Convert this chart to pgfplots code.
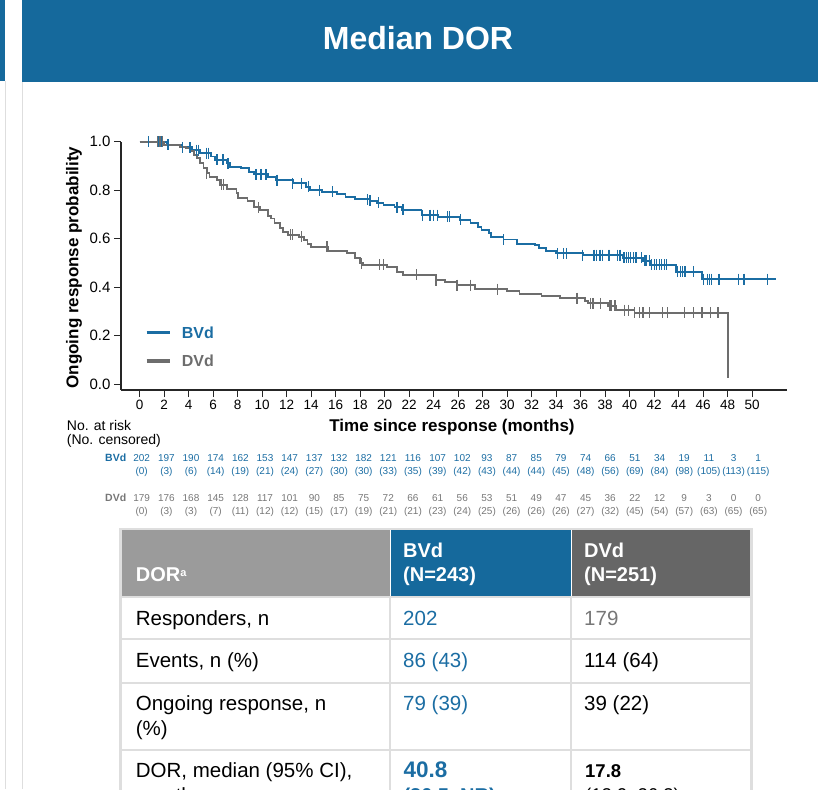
\documentclass[border=0pt]{standalone}
\usepackage{pgfplots}
\pgfplotsset{compat=1.18}
\usepackage{fontspec}
\setmainfont{Liberation Sans}
\definecolor{hdrblue}{HTML}{15699C}
\definecolor{bvd}{HTML}{1B6DA3}
\definecolor{dvd}{HTML}{6D6D6D}
\definecolor{dvdtxt}{HTML}{777777}
\definecolor{cellgray}{HTML}{9B9B9B}
\definecolor{celldark}{HTML}{666666}
\definecolor{rulegray}{HTML}{DEDEDE}
\newcommand{\fs}[1]{\fontsize{#1}{#1}\selectfont}
\begin{document}
\begin{tikzpicture}
\useasboundingbox (0,0) rectangle (818pt,-789pt);
% header band
\fill[hdrblue] (0,0) rectangle (5pt,-81pt);
\fill[hdrblue] (22pt,0) rectangle (818pt,-82pt);
\draw[rulegray, line width=1pt] (5.5pt,-81pt) -- (5.5pt,-789pt);
\draw[rulegray, line width=1pt] (22.5pt,-82pt) -- (22.5pt,-789pt);
\node[white, font=\fs{32}\bfseries, anchor=base, inner sep=0pt] at (418pt,-49.3pt) {Median DOR};

\begin{axis}[
  at={(121pt,-390pt)}, anchor=south west,
  scale only axis, width=665.7pt, height=248.2pt,
  xmin=-1.527, xmax=52.82, ymin=-0.0235, ymax=1.0,
  axis x line=bottom, axis y line=left,
  axis line style={-, line width=1.3pt, black!85},
  xtick={0,2,...,50}, ytick={0,0.2,0.4,0.6,0.8,1},
  tick align=outside, major tick length=7pt,
  tick style={line width=1.1pt, black!85},
  yticklabel style={/pgf/number format/fixed, /pgf/number format/precision=1, /pgf/number format/fixed zerofill, font=\fs{15}},
  xticklabel style={font=\fs{13.5}},
  /pgf/number format/assume math mode=true,
  clip=false,
]
\addplot[const plot, bvd, line width=1.8pt] coordinates {
(0,1.0) (2.2,0.987) (3.5,0.977) (4.3,0.966) (4.9,0.953) (5.8,0.939) (6.15,0.925)
(7.1,0.911) (7.4,0.897) (8.3,0.891) (8.9,0.877) (9.3,0.866) (10.5,0.856) (11.1,0.842)
(12.5,0.829) (13.6,0.815) (13.9,0.801) (14.85,0.794) (16.1,0.785) (16.8,0.774)
(17.6,0.763) (18.8,0.756) (19.35,0.749) (19.9,0.739) (20.8,0.730) (21.4,0.719)
(23.0,0.698) (24.4,0.691) (26.15,0.678) (27.0,0.664) (27.6,0.650) (27.9,0.636)
(28.5,0.623) (28.7,0.609) (29.7,0.597) (30.8,0.580) (32.3,0.576) (32.6,0.563)
(33.2,0.551) (34.0,0.540) (36.2,0.533) (39.45,0.522) (41.1,0.510) (41.7,0.492)
(43.8,0.464) (45.9,0.434) (51.94,0.434)
};
\addplot[only marks, mark=|, mark size=5.5pt, bvd, mark options={line width=1.3pt}, forget plot] coordinates {
(0.7,1.0) (1.5,1.0) (1.8,1.0) (2.3,0.987) (3.5,0.977) (4.1,0.977) (4.65,0.966) (4.8,0.966)
(5.47,0.953) (5.6,0.953) (6.3,0.925) (6.8,0.925) (7.2,0.911) (9.5,0.866) (9.9,0.866)
(10.3,0.866) (11.2,0.842) (12.5,0.829) (13.2,0.829) (13.8,0.815) (14.7,0.801)
(15.75,0.794) (18.6,0.763) (18.8,0.756) (19.5,0.749) (21.0,0.730) (21.5,0.719)
(23.1,0.698) (23.7,0.698) (24.0,0.698) (24.3,0.698) (25.1,0.691) (25.3,0.691)
(26.2,0.678) (29.7,0.597) (34.09,0.540) (34.58,0.540) (34.86,0.540) (36.16,0.533)
(37.09,0.533) (37.31,0.533) (37.58,0.533) (37.8,0.533) (38.26,0.533) (38.34,0.533)
(38.99,0.533) (39.21,0.533) (39.53,0.522) (39.76,0.522) (39.89,0.522) (40.08,0.522)
(40.3,0.522) (40.51,0.522) (40.98,0.522) (41.25,0.510) (41.39,0.510) (41.6,0.510)
(41.8,0.492) (42.01,0.492) (42.2,0.492) (42.42,0.492) (42.61,0.492) (42.83,0.492)
(43.02,0.492) (43.89,0.464) (44.16,0.464) (44.33,0.464) (44.51,0.464) (45.19,0.464)
(46.01,0.434) (46.34,0.434) (46.5,0.434) (46.69,0.434) (47.29,0.434) (48.87,0.434)
(49.33,0.434) (51.27,0.434)
};
\addplot[const plot, dvd, line width=1.8pt] coordinates {
(0,1.0) (2.0,0.987) (3.3,0.980) (3.8,0.973) (4.1,0.962) (4.4,0.946) (4.65,0.932)
(4.9,0.911) (5.2,0.891) (5.5,0.870) (5.7,0.856) (6.3,0.842) (6.55,0.822) (7.1,0.804)
(7.9,0.788) (8.0,0.767) (8.8,0.755) (9.35,0.730) (9.8,0.719) (10.5,0.695) (10.7,0.684)
(11.0,0.664) (11.45,0.643) (11.7,0.629) (12.1,0.616) (13.0,0.609) (13.4,0.595)
(13.7,0.580) (14.0,0.567) (15.4,0.551) (16.9,0.540) (17.6,0.520) (18.0,0.499)
(18.2,0.492) (20.2,0.485) (21.0,0.462) (21.5,0.452) (24.2,0.430) (24.9,0.423)
(25.9,0.409) (27.4,0.393) (30.0,0.385) (31.0,0.372) (32.8,0.364) (34.3,0.355)
(36.35,0.345) (36.6,0.334) (38.25,0.323) (38.9,0.306) (40.4,0.295) (48.05,0.025)
};
\addplot[only marks, mark=|, mark size=5.5pt, dvd, mark options={line width=1.3pt}, forget plot] coordinates {
(1.47,1.0) (1.66,1.0) (1.85,1.0) (5.45,0.870) (6.69,0.822) (6.85,0.822) (9.7,0.730)
(12.3,0.616) (12.5,0.616) (13.2,0.609) (15.3,0.567) (18.1,0.499) (19.6,0.492)
(19.9,0.492) (22.6,0.452) (24.2,0.430) (25.9,0.409) (27.0,0.409) (29.2,0.393)
(35.7,0.355) (36.8,0.334) (37.0,0.334) (37.6,0.334) (38.4,0.323) (38.5,0.323)
(38.8,0.323) (39.6,0.306) (39.9,0.306) (40.4,0.295) (40.8,0.295) (41.1,0.295)
(41.6,0.295) (42.7,0.295) (43.1,0.295) (44.5,0.295) (45.2,0.295) (45.9,0.295)
(46.6,0.295) (47.2,0.295)
};
\end{axis}

% axis labels
\node[font=\fs{17}\bfseries, anchor=base, inner sep=0pt] at (452pt,-431.7pt) {Time since response (months)};
\node[font=\fs{17}\bfseries, anchor=base, rotate=90, inner sep=0pt] at (78.3pt,-267.5pt) {Ongoing response probability};

% legend
\draw[bvd, line width=3.3pt] (146.7pt,-332.3pt) -- (170pt,-332.3pt);
\node[bvd, font=\fs{16}\bfseries, anchor=base west, inner sep=0pt] at (181.7pt,-338.3pt) {BVd};
\draw[dvd, line width=3.3pt] (146.7pt,-361pt) -- (170pt,-361pt);
\node[dvd, font=\fs{16}\bfseries, anchor=base west, inner sep=0pt] at (181.7pt,-366.7pt) {DVd};

% at risk
\node[font=\fs{14}, anchor=base west, inner sep=0pt] at (66.7pt,-430.7pt) {No. at risk};
\node[font=\fs{14}, anchor=base west, inner sep=0pt] at (66.7pt,-444.3pt) {(No. censored)};
\node[bvd, font=\fs{10.5}\bfseries, anchor=base west, inner sep=0pt] at (105pt,-461.7pt) {BVd};
\node[dvdtxt, font=\fs{10.5}\bfseries, anchor=base west, inner sep=0pt] at (105pt,-501.7pt) {DVd};
\foreach \n/\c [count=\i from 0] in {202/0,197/3,190/6,174/14,162/19,153/21,147/24,137/27,132/30,182/30,121/33,116/35,107/39,102/42,93/43,87/44,85/44,79/45,74/48,66/56,51/69,34/84,19/98,11/105,3/113,1/115}{
  \node[bvd, font=\fs{10}, anchor=base, inner sep=0pt] at ({(141.7+24.66*\i)*1pt},-461.7pt) {\n};
  \node[bvd, font=\fs{10}, anchor=base, inner sep=0pt] at ({(141.7+24.66*\i)*1pt},-474.5pt) {(\c)};
}
\foreach \n/\c [count=\i from 0] in {179/0,176/3,168/3,145/7,128/11,117/12,101/12,90/15,85/17,75/19,72/21,66/21,61/23,56/24,53/25,51/26,49/26,47/26,45/27,36/32,22/45,12/54,9/57,3/63,0/65,0/65}{
  \node[dvdtxt, font=\fs{10}, anchor=base, inner sep=0pt] at ({(141.7+24.66*\i)*1pt},-501.7pt) {\n};
  \node[dvdtxt, font=\fs{10}, anchor=base, inner sep=0pt] at ({(141.7+24.66*\i)*1pt},-514.5pt) {(\c)};
}

% table
\fill[cellgray] (121pt,-530pt) rectangle (389.8pt,-596pt);
\fill[hdrblue] (390.8pt,-530pt) rectangle (570.8pt,-596pt);
\fill[celldark] (571.8pt,-530pt) rectangle (750.5pt,-596pt);
\draw[rulegray, line width=2.2pt] (120pt,-529pt) -- (752pt,-529pt);
\draw[rulegray, line width=2.2pt] (120.5pt,-528pt) -- (120.5pt,-795pt);
\draw[rulegray, line width=2.2pt] (751.5pt,-528pt) -- (751.5pt,-795pt);
\draw[rulegray, line width=2.2pt] (390.3pt,-596pt) -- (390.3pt,-795pt);
\draw[rulegray, line width=2.2pt] (571.3pt,-596pt) -- (571.3pt,-795pt);
\foreach \y in {596.8,639.3,683.3,750}{
  \draw[rulegray, line width=2.2pt] (120pt,-\y pt) -- (752pt,-\y pt);
}
\node[white, font=\fs{20}\bfseries, anchor=base west, inner sep=0pt] at (135.7pt,-581.7pt) {DOR\raisebox{5pt}{\fs{11}a}};
\node[white, font=\fs{20}\bfseries, anchor=base west, inner sep=0pt] at (403pt,-557.3pt) {BVd};
\node[white, font=\fs{20}\bfseries, anchor=base west, inner sep=0pt] at (403pt,-581.7pt) {(N=243)};
\node[white, font=\fs{20}\bfseries, anchor=base west, inner sep=0pt] at (584pt,-557.3pt) {DVd};
\node[white, font=\fs{20}\bfseries, anchor=base west, inner sep=0pt] at (584pt,-581.7pt) {(N=251)};

\node[font=\fs{20.5}, anchor=base west, inner sep=0pt] at (135.7pt,-625pt) {Responders, n};
\node[bvd, font=\fs{20.5}, anchor=base west, inner sep=0pt] at (403pt,-625pt) {202};
\node[dvdtxt, font=\fs{20.5}, anchor=base west, inner sep=0pt] at (584pt,-625pt) {179};

\node[font=\fs{20.5}, anchor=base west, inner sep=0pt] at (135.7pt,-667.7pt) {Events, n (\%)};
\node[bvd, font=\fs{20.5}, anchor=base west, inner sep=0pt] at (403pt,-667.7pt) {86 (43)};
\node[font=\fs{20.5}, anchor=base west, inner sep=0pt] at (584pt,-667.7pt) {114 (64)};

\node[font=\fs{20.5}, anchor=base west, inner sep=0pt] at (135.7pt,-710.7pt) {Ongoing response, n};
\node[font=\fs{20.5}, anchor=base west, inner sep=0pt] at (135.7pt,-735pt) {(\%)};
\node[bvd, font=\fs{20.5}, anchor=base west, inner sep=0pt] at (403pt,-710.7pt) {79 (39)};
\node[font=\fs{20.5}, anchor=base west, inner sep=0pt] at (584pt,-710.7pt) {39 (22)};

\node[font=\fs{20.5}, anchor=base west, inner sep=0pt] at (135.7pt,-777.5pt) {DOR, median (95\% CI),};
\node[font=\fs{20.5}, anchor=base west, inner sep=0pt] at (135.7pt,-802pt) {months};
\node[bvd, font=\fs{22.5}\bfseries, anchor=base west, inner sep=0pt] at (403.3pt,-777pt) {40.8};
\node[bvd, font=\fs{20}\bfseries, anchor=base west, inner sep=0pt] at (403.3pt,-802pt) {(30.5–NR)};
\node[font=\fs{18.5}\bfseries, anchor=base west, inner sep=0pt] at (585pt,-777.7pt) {17.8};
\node[font=\fs{18.5}, anchor=base west, inner sep=0pt] at (585pt,-801pt) {(12.9–26.3)};
\end{tikzpicture}
\end{document}
